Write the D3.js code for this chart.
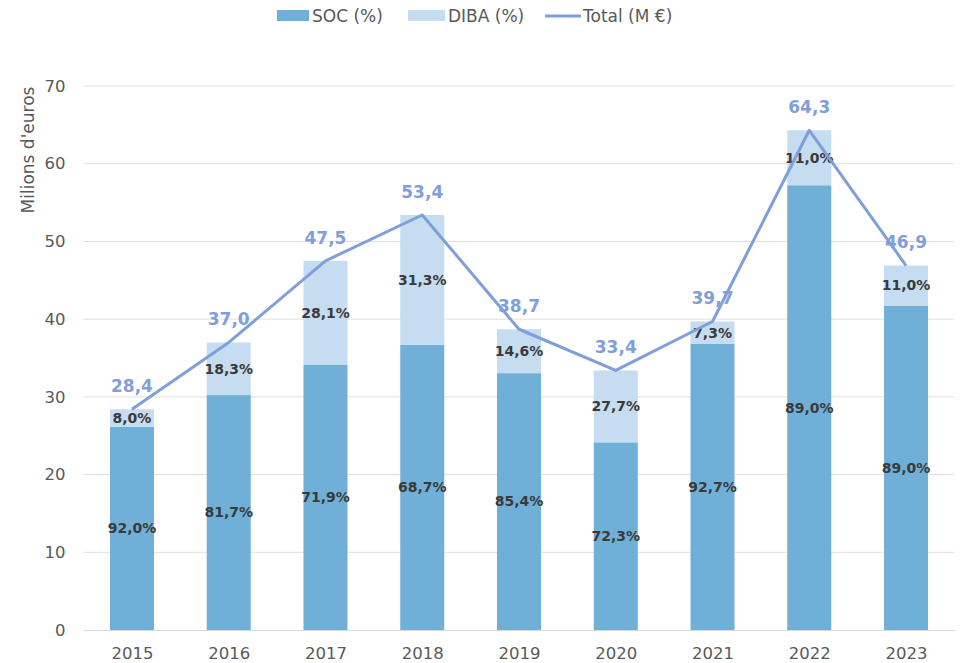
<!DOCTYPE html>
<html>
<head>
<meta charset="utf-8">
<script src="https://cdn.jsdelivr.net/npm/d3@7"></script>
<style>
body{margin:0;background:#fff;}
svg{display:block;font-family:"DejaVu Sans",sans-serif;}
</style>
</head>
<body>
<svg id="chart" width="960" height="663"></svg>
<script>
const years = ["2015","2016","2017","2018","2019","2020","2021","2022","2023"];
const totals = [28.4, 37.0, 47.5, 53.4, 38.7, 33.4, 39.7, 64.3, 46.9];
const socPct = [92.0, 81.7, 71.9, 68.7, 85.4, 72.3, 92.7, 89.0, 89.0];
const dibaPct = [8.0, 18.3, 28.1, 31.3, 14.6, 27.7, 7.3, 11.0, 11.0];
const yTicks = [0,10,20,30,40,50,60,70];

const fmt = v => v.toFixed(1).replace(".", ",");
const cSOC = "#70b0d8", cDIBA = "#c6dcf0", cLine = "#7f9fdb", cLab = "#3a3a3a", cAxis = "#595959";

const svg = d3.select("#chart");
const L = 83.6, R = 954.4, B = 630, T = 86;
const x = d3.scalePoint().domain(years).range([L, R]).padding(0.5);
const y = d3.scaleLinear().domain([0, 70]).range([B, T]);
const bw = x.step() * 0.455;

// gridlines
svg.append("g").selectAll("line").data(yTicks.slice(1)).join("line")
  .attr("x1", L).attr("x2", R).attr("y1", d => y(d)).attr("y2", d => y(d))
  .attr("stroke", "#e0e0e0").attr("stroke-width", 1);

// y axis
const yAxis = svg.append("g").attr("transform", `translate(${L},0)`)
  .call(d3.axisLeft(y).tickValues(yTicks).tickSize(0).tickPadding(18));
yAxis.select(".domain").remove();
yAxis.selectAll("text").attr("font-size", 16.5).attr("fill", cAxis).attr("font-family", "DejaVu Sans");

// x axis
const xAxis = svg.append("g").attr("transform", `translate(0,${B})`)
  .call(d3.axisBottom(x).tickSize(0).tickPadding(17));
xAxis.select(".domain").attr("stroke", "#d9d9d9");
xAxis.selectAll("text").attr("font-size", 16.5).attr("fill", cAxis).attr("font-family", "DejaVu Sans");

// data rows
const rows = years.map((yr, i) => ({
  yr, total: totals[i], soc: totals[i] * socPct[i] / 100, sp: socPct[i], dp: dibaPct[i]
}));

// bars
svg.append("g").selectAll("rect.soc").data(rows).join("rect")
  .attr("x", d => x(d.yr) - bw / 2).attr("width", bw)
  .attr("y", d => y(d.soc)).attr("height", d => y(0) - y(d.soc))
  .attr("fill", cSOC);
svg.append("g").selectAll("rect.diba").data(rows).join("rect")
  .attr("x", d => x(d.yr) - bw / 2).attr("width", bw)
  .attr("y", d => y(d.total)).attr("height", d => y(d.soc) - y(d.total))
  .attr("fill", cDIBA);

// segment labels
svg.append("g").selectAll("text").data(rows).join("text")
  .attr("x", d => x(d.yr)).attr("y", d => y(d.soc / 2))
  .attr("text-anchor", "middle").attr("dy", "0.35em")
  .attr("font-size", 14).attr("font-weight", "bold").attr("fill", cLab)
  .text(d => fmt(d.sp) + "%");
svg.append("g").selectAll("text").data(rows).join("text")
  .attr("x", d => x(d.yr)).attr("y", d => y((d.soc + d.total) / 2))
  .attr("text-anchor", "middle").attr("dy", "0.35em")
  .attr("font-size", 14).attr("font-weight", "bold").attr("fill", cLab)
  .text(d => fmt(d.dp) + "%");

// total line
svg.append("path").datum(rows)
  .attr("d", d3.line().x(d => x(d.yr)).y(d => y(d.total)))
  .attr("fill", "none").attr("stroke", cLine).attr("stroke-width", 3)
  .attr("stroke-linejoin", "round");

svg.append("g").selectAll("text").data(rows).join("text")
  .attr("x", d => x(d.yr)).attr("y", d => y(d.total) - 23)
  .attr("text-anchor", "middle").attr("dy", "0.35em")
  .attr("font-size", 17).attr("font-weight", "bold").attr("fill", cLine)
  .text(d => fmt(d.total));

// y title
svg.append("text").attr("transform", "translate(28,150) rotate(-90)")
  .attr("text-anchor", "middle").attr("dy", "0.35em")
  .attr("font-size", 17).attr("fill", cAxis).text("Milions d'euros");

// legend
const lg = svg.append("g");
lg.append("rect").attr("x", 277).attr("y", 10).attr("width", 32).attr("height", 11).attr("fill", cSOC);
lg.append("text").attr("x", 312).attr("y", 16).attr("dy", "0.35em").attr("font-size", 17).attr("fill", cAxis).text("SOC (%)");
lg.append("rect").attr("x", 408).attr("y", 10).attr("width", 37).attr("height", 11).attr("fill", cDIBA);
lg.append("text").attr("x", 448).attr("y", 16).attr("dy", "0.35em").attr("font-size", 17).attr("fill", cAxis).text("DIBA (%)");
lg.append("line").attr("x1", 545).attr("x2", 581).attr("y1", 16).attr("y2", 16).attr("stroke", cLine).attr("stroke-width", 3);
lg.append("text").attr("x", 583).attr("y", 16).attr("dy", "0.35em").attr("font-size", 17).attr("fill", cAxis).text("Total (M €)");
</script>
</body>
</html>
